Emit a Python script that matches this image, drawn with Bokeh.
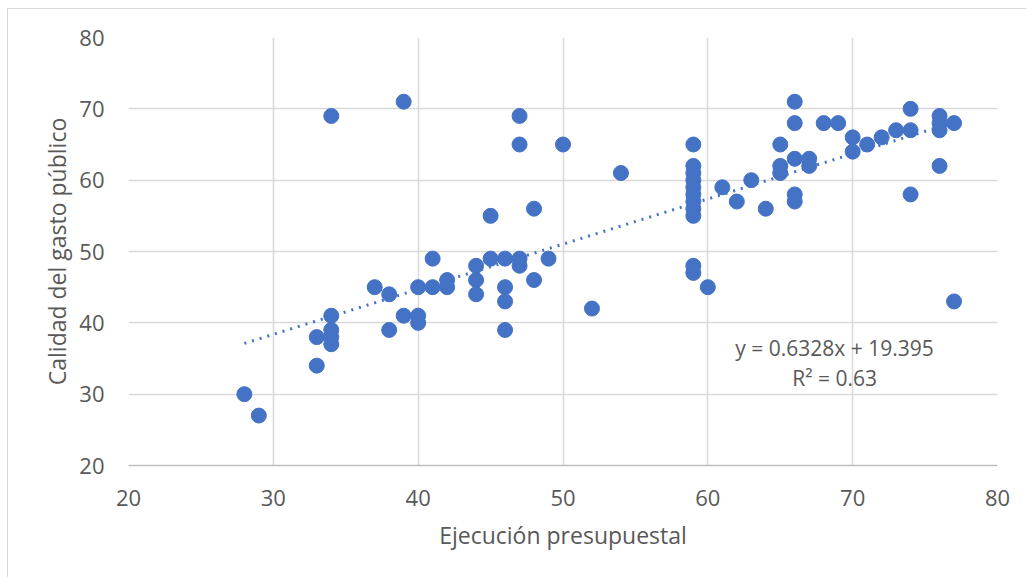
from bokeh.plotting import figure
from bokeh.models import Label, FixedTicker, ColumnDataSource
from bokeh.embed import file_html
from bokeh.resources import INLINE

ejecucion = [28, 29, 33, 33, 34, 34, 34, 34, 34, 37, 38, 38, 39, 39, 40, 40, 40,
             41, 41, 42, 42, 44, 44, 44, 45, 45, 46, 46, 46, 46, 47, 47, 47, 47,
             48, 48, 49, 50, 52, 54, 59, 59, 59, 59, 59, 59, 59, 59, 59, 59, 59,
             60, 61, 62, 63, 64, 65, 65, 65, 66, 66, 66, 66, 66, 67, 67, 68, 69,
             70, 70, 71, 72, 73, 74, 74, 74, 76, 76, 76, 76, 77, 77]
calidad = [30, 27, 34, 38, 69, 41, 39, 38, 37, 45, 44, 39, 71, 41, 45, 41, 40,
           49, 45, 46, 45, 48, 46, 44, 55, 49, 49, 45, 43, 39, 69, 65, 49, 48,
           56, 46, 49, 65, 42, 61, 65, 62, 61, 60, 59, 58, 57, 56, 55, 48, 47,
           45, 59, 57, 60, 56, 65, 62, 61, 71, 68, 63, 58, 57, 63, 62, 68, 68,
           66, 64, 65, 66, 67, 70, 67, 58, 69, 68, 67, 62, 68, 43]

slope = 0.6328
intercept = 19.395
r2 = 0.63
ticks = [20, 30, 40, 50, 60, 70, 80]

FONT = "Open Sans"
TXT = "#595959"
BLUE = "#4472C4"
GRID = "#D9D9D9"

p = figure(width=1018, height=568, output_backend="svg", toolbar_location=None,
           x_range=(20, 80), y_range=(20, 80),
           frame_width=869, frame_height=428,
           min_border_left=120, min_border_right=29,
           min_border_top=28, min_border_bottom=112)
p.styles = {"margin-left": "7px", "margin-top": "8px",
            "border-left": "1px solid #D9D9D9", "border-top": "1px solid #D9D9D9"}
p.outline_line_color = None
p.background_fill_color = "white"
p.border_fill_color = "white"

for ax in (p.xaxis, p.yaxis):
    ax.ticker = FixedTicker(ticks=ticks)
    ax.major_tick_line_color = None
    ax.minor_tick_line_color = None
    ax.major_label_text_font = FONT
    ax.major_label_text_font_size = "22px"
    ax.major_label_text_color = TXT
    ax.axis_label_text_font = FONT
    ax.axis_label_text_font_size = "23px"
    ax.axis_label_text_font_style = "normal"
    ax.axis_label_text_color = TXT

p.xaxis.axis_line_color = "#BFBFBF"
p.xaxis.axis_line_width = 1.5
p.yaxis.axis_line_color = None
p.xaxis.major_label_standoff = 18
p.yaxis.major_label_standoff = 18
p.xaxis.axis_label = "Ejecución presupuestal"
p.yaxis.axis_label = "Calidad del gasto público"
p.xaxis.axis_label_standoff = 10
p.yaxis.axis_label_standoff = 3

p.xgrid.ticker = FixedTicker(ticks=ticks)
p.ygrid.ticker = FixedTicker(ticks=ticks)
p.xgrid.grid_line_color = GRID
p.ygrid.grid_line_color = GRID
p.xgrid.grid_line_width = 1.5
p.ygrid.grid_line_width = 1.5

# trendline
tx = [min(ejecucion), max(ejecucion)]
ty = [slope * v + intercept for v in tx]
p.line(tx, ty, line_color=BLUE, line_width=3, line_dash="2 6")

src = ColumnDataSource(dict(x=ejecucion, y=calidad))
p.scatter("x", "y", source=src, size=15, fill_color=BLUE, line_color=BLUE)

p.add_layout(Label(x=68.75, y=36.5, text=f"y = {slope}x + {intercept}",
                   text_align="center", text_baseline="middle",
                   text_font=FONT, text_font_size="21px", text_color=TXT))
p.add_layout(Label(x=68.75, y=32.3, text=f"R² = {r2}",
                   text_align="center", text_baseline="middle",
                   text_font=FONT, text_font_size="21px", text_color=TXT))

open("out.html", "w").write(file_html(p, INLINE))
